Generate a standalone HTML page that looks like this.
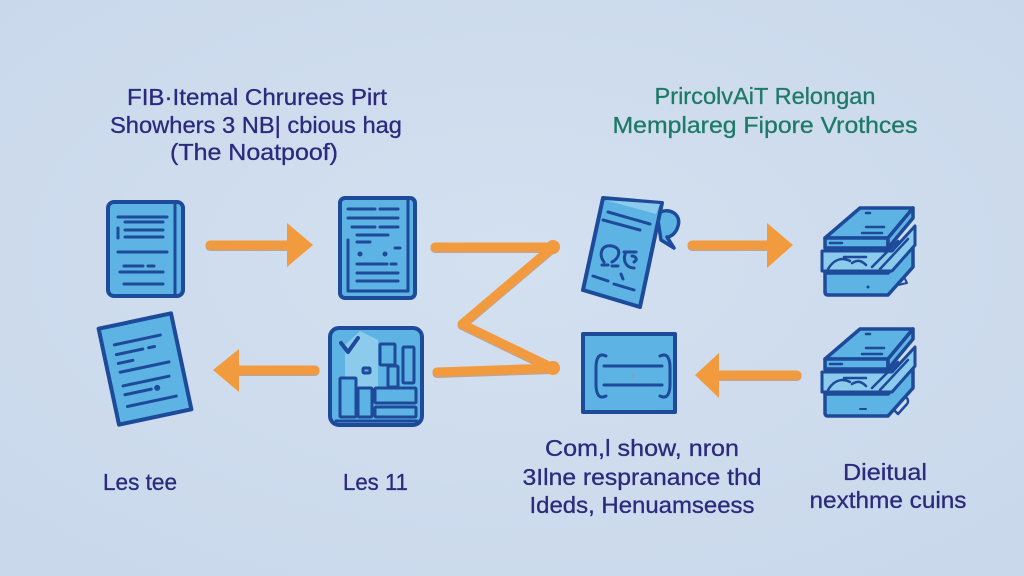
<!DOCTYPE html>
<html><head><meta charset="utf-8"><style>
html,body{margin:0;padding:0;width:1024px;height:576px;overflow:hidden;background:#cfdcee;}
svg{display:block;}
text{font-family:"Liberation Sans",sans-serif;}
</style></head><body>
<svg width="1024" height="576" viewBox="0 0 1024 576" xmlns="http://www.w3.org/2000/svg">
<defs>
<radialGradient id="bg" cx="50%" cy="45%" r="70%">
<stop offset="0" stop-color="#d3e0f0"/><stop offset="1" stop-color="#c9d8eb"/>
</radialGradient>
</defs>
<rect width="1024" height="576" fill="url(#bg)"/>

<!-- Titles -->
<g fill="#2b2a7c" font-size="23" text-anchor="middle" stroke="#2b2a7c" stroke-width="0.3">
<text x="257" y="105" textLength="260" lengthAdjust="spacingAndGlyphs">FIB·Itemal Chrurees Pirt</text>
<text x="256" y="133" textLength="292" lengthAdjust="spacingAndGlyphs">Showhers 3 NB| cbious hag</text>
<text x="254" y="160" textLength="168" lengthAdjust="spacingAndGlyphs">(The Noatpoof)</text>
</g>
<g fill="#1e7a68" font-size="23" text-anchor="middle" stroke="#1e7a68" stroke-width="0.3">
<text x="765" y="104" textLength="221" lengthAdjust="spacingAndGlyphs">PrircolvAiT Relongan</text>
<text x="765" y="133" textLength="305" lengthAdjust="spacingAndGlyphs">Memplareg Fipore Vrothces</text>
</g>

<!-- Arrows -->
<g fill="none" stroke-linecap="round" stroke-linejoin="round">
 <g stroke="#b8682a" stroke-width="9" opacity="0.5" transform="translate(0,1.5)">
  <path d="M210 245 H292"/>
  <path d="M315 370 H236"/>
  <path d="M692 245 H772"/>
  <path d="M797 375 H716"/>
  <path d="M435 247 H553 L462 324 L553 368 L437 372"/>
 </g>
 <g stroke="#f29a3e" stroke-width="9">
  <path d="M210 245 H292"/>
  <path d="M315 370 H236"/>
  <path d="M692 245 H772"/>
  <path d="M797 375 H716"/>
  <path d="M435 247 H553 L462 324 L553 368 L437 372"/>
 </g>
</g>
<g fill="#f29a3e">
 <polygon points="287,223 313,245 287,267"/>
 <polygon points="239,349 213,370 239,392"/>
 <polygon points="767,223 793,245 767,268"/>
 <polygon points="719,353 695,375 719,398"/>
 <circle cx="553" cy="247" r="7"/>
 <circle cx="553" cy="368" r="7"/>
</g>

<g stroke="#1e4a9a" stroke-linecap="round" stroke-linejoin="round">
<!-- Icon 1 -->
<rect x="108" y="202" width="75" height="94" rx="6" fill="#5db3e3" stroke-width="4"/>
<line x1="175" y1="204" x2="175" y2="294" stroke-width="3"/>
<g stroke-width="3">
<line x1="118" y1="217" x2="167" y2="217"/>
<line x1="125" y1="222" x2="163" y2="222"/>
<line x1="118" y1="228" x2="118" y2="238"/>
<line x1="125" y1="230" x2="163" y2="230"/>
<line x1="125" y1="237" x2="163" y2="237"/>
<line x1="118" y1="252" x2="167" y2="252"/>
<line x1="124" y1="266" x2="143" y2="266"/>
<line x1="148" y1="266" x2="154" y2="266"/>
<line x1="120" y1="272" x2="163" y2="272"/>
<line x1="124" y1="284" x2="163" y2="284"/>
</g>

<!-- Icon 2 -->
<rect x="340" y="198" width="75" height="100" rx="5" fill="#5db3e3" stroke-width="4"/>
<path d="M348 240 V291 H408 V200" fill="none" stroke-width="3"/>
<g stroke-width="3">
<line x1="348" y1="209" x2="375" y2="209"/><line x1="380" y1="209" x2="398" y2="209"/>
<line x1="348" y1="218" x2="398" y2="218"/>
<line x1="352" y1="227" x2="375" y2="227"/><line x1="380" y1="227" x2="398" y2="227"/>
<line x1="357" y1="235" x2="388" y2="235"/>
<line x1="357" y1="242" x2="370" y2="242"/>
<line x1="395" y1="248" x2="400" y2="248"/>
<line x1="357" y1="264" x2="387" y2="264"/><line x1="391" y1="264" x2="396" y2="264"/>
<line x1="357" y1="273" x2="398" y2="273"/>
<line x1="357" y1="281" x2="398" y2="281"/>
</g>
<circle cx="360" cy="254" r="2.5" fill="#1e4a9a" stroke="none"/>
<circle cx="385" cy="254" r="2.5" fill="#1e4a9a" stroke="none"/>

<!-- Icon 5 tilted doc -->
<g transform="translate(145,369) rotate(-12)">
<rect x="-37" y="-49" width="74" height="98" fill="#5db3e3" stroke-width="4"/>
<g stroke-width="3">
<line x1="-25" y1="-30" x2="22" y2="-30"/>
<line x1="-25" y1="-20" x2="2" y2="-20"/><line x1="8" y1="-20" x2="14" y2="-20"/>
<line x1="-25" y1="-11" x2="-10" y2="-11"/>
<line x1="-25" y1="-2" x2="25" y2="-2"/>
<line x1="-25" y1="12" x2="22" y2="12"/>
<line x1="-25" y1="21" x2="2" y2="21"/><circle cx="8" cy="21" r="1.5"/>
<line x1="-25" y1="33" x2="25" y2="33"/>
</g>
</g>

<!-- Icon 6 chart -->
<rect x="330" y="328" width="92" height="97" rx="9" fill="#5db3e3" stroke-width="4"/>
<path d="M345 370 V345 L360 331 L378 340 V395 H345 Z" fill="#8ccbec" stroke="none"/>
<path d="M341 343 L348 352 L358 338" fill="none" stroke-width="4"/>
<g fill="#5db3e3" stroke-width="3">
<rect x="380" y="344" width="15" height="21" rx="1"/>
<rect x="403" y="347" width="11" height="36" rx="1"/>
<rect x="388" y="366" width="10" height="21" rx="1"/>
<rect x="340" y="378" width="16" height="39" rx="1"/>
<rect x="358" y="388" width="14" height="29" rx="1"/>
<rect x="375" y="388" width="41" height="15" rx="1"/>
<rect x="375" y="407" width="41" height="10" rx="1"/>
<rect x="363" y="368" width="7" height="5" rx="1"/>
</g>
<line x1="336" y1="421" x2="417" y2="421" stroke-width="3"/>

<!-- Icon 3 skewed doc with ribbon -->
<path d="M657 214 C668 206 682 214 678 226 C676 234 670 237 667 237 L674 248 L661 240 Z" fill="#5db3e3" stroke-width="3.5"/>
<polygon points="603,198 662,203 640,307 583,290" fill="#5db3e3" stroke-width="4"/>
<polygon points="605,200 660,204 656,214" fill="#8ccbec" stroke="none"/>
<g stroke-width="3" fill="none">
<line x1="608" y1="212" x2="650" y2="224"/>
<line x1="603" y1="220" x2="640" y2="230"/>
<path d="M604 262 C598 254 602 244 612 246 C622 248 620 258 612 262 M602 265 H608 M612 266 H618"/>
<path d="M624 252 H636 M626 252 C622 260 626 268 634 268 M632 256 C636 256 638 260 634 262"/>
<line x1="593" y1="276" x2="608" y2="281"/>
<line x1="614" y1="284" x2="634" y2="290"/>
<line x1="621" y1="274" x2="623" y2="279"/>
</g>

<!-- Icon 7 brackets -->
<rect x="583" y="334" width="92" height="78" fill="#5db3e3" stroke-width="4"/>
<g stroke-width="3" fill="none">
<line x1="604" y1="366" x2="662" y2="366"/>
<line x1="604" y1="385" x2="662" y2="385"/>
<path d="M606 356 C598 352 596 360 596 368 V384 C596 392 598 400 606 396"/>
<path d="M660 356 C668 352 670 360 670 368 V384 C670 392 668 400 660 396"/>
</g>
<circle cx="633" cy="376" r="1.8" fill="#7ca0c8" stroke="none"/>

<!-- Icon 4 stack -->
<g transform="translate(822,205)">
<path d="M3 68 V87 Q3 90 6 90 H66 L91 62 V42 L66 68 Z" fill="#5db3e3" stroke-width="3.5"/>
<line x1="3" y1="68" x2="66" y2="68" stroke-width="3"/>
<path d="M0 46 H70 L93 21 V40 L70 66 H0 Z" fill="#8ccbec" stroke-width="3"/>
<path d="M6 64 C12 54 20 52 28 56 M22 52 H44 M50 62 L76 36 M58 64 L86 34 M30 58 C36 54 40 56 44 60" fill="none" stroke-width="2.5"/>
<path d="M3 33 L38 3 H91 L66 33 Z" fill="#5db3e3" stroke-width="3.5"/>
<path d="M3 33 H66 V43 H3 Z" fill="#5db3e3" stroke-width="3.5"/>
<path d="M66 33 L91 3 V13 L66 43 Z" fill="#5db3e3" stroke-width="3.5"/>
<g stroke-width="2.5"><line x1="44" y1="22" x2="62" y2="22"/><line x1="40" y1="28" x2="60" y2="28"/><line x1="8" y1="38" x2="20" y2="38"/><line x1="44" y1="8" x2="48" y2="8"/></g>
<circle cx="46" cy="82" r="1.5" fill="#1e4a9a" stroke="none"/>
<path d="M76 80 L82 72 L85 78 Z" fill="none" stroke-width="2"/>
</g>

<!-- Icon 8 stack -->
<g transform="translate(822,326)">
<path d="M3 68 V87 Q3 90 6 90 H66 L91 62 V42 L66 68 Z" fill="#5db3e3" stroke-width="3.5"/>
<line x1="3" y1="68" x2="66" y2="68" stroke-width="3"/>
<path d="M0 46 H70 L93 21 V40 L70 66 H0 Z" fill="#8ccbec" stroke-width="3"/>
<path d="M6 64 C12 54 20 52 28 56 M22 52 H44 M50 62 L76 36 M58 64 L86 34 M30 58 C36 54 40 56 44 60" fill="none" stroke-width="2.5"/>
<path d="M3 33 L38 3 H91 L66 33 Z" fill="#5db3e3" stroke-width="3.5"/>
<path d="M3 33 H66 V43 H3 Z" fill="#5db3e3" stroke-width="3.5"/>
<path d="M66 33 L91 3 V13 L66 43 Z" fill="#5db3e3" stroke-width="3.5"/>
<g stroke-width="2.5"><line x1="44" y1="22" x2="62" y2="22"/><line x1="40" y1="28" x2="60" y2="28"/><line x1="8" y1="38" x2="20" y2="38"/><line x1="44" y1="8" x2="48" y2="8"/></g>
<path d="M72 84 L82 72 C86 70 87 76 85 78 L76 88 Z" fill="none" stroke-width="2.5"/>
<line x1="38" y1="83" x2="44" y2="83" stroke-width="2"/>
</g>
</g>

<!-- Bottom labels -->
<g fill="#2b2a7c" font-size="23" stroke="#2b2a7c" stroke-width="0.3">
<text x="103" y="490" textLength="74" lengthAdjust="spacingAndGlyphs">Les tee</text>
<text x="343" y="490" textLength="65" lengthAdjust="spacingAndGlyphs">Les 11</text>
</g>
<g fill="#2b2a7c" font-size="23" text-anchor="middle" stroke="#2b2a7c" stroke-width="0.3">
<text x="642" y="456" textLength="194" lengthAdjust="spacingAndGlyphs">Com,l show, nron</text>
<text x="642" y="485" textLength="239" lengthAdjust="spacingAndGlyphs">3Ilne respranance thd</text>
<text x="642" y="513" textLength="225" lengthAdjust="spacingAndGlyphs">Ideds, Henuamseess</text>
<text x="885" y="480" textLength="84" lengthAdjust="spacingAndGlyphs">Dieitual</text>
<text x="888" y="508" textLength="157" lengthAdjust="spacingAndGlyphs">nexthme cuins</text>
</g>
</svg>
</body></html>
